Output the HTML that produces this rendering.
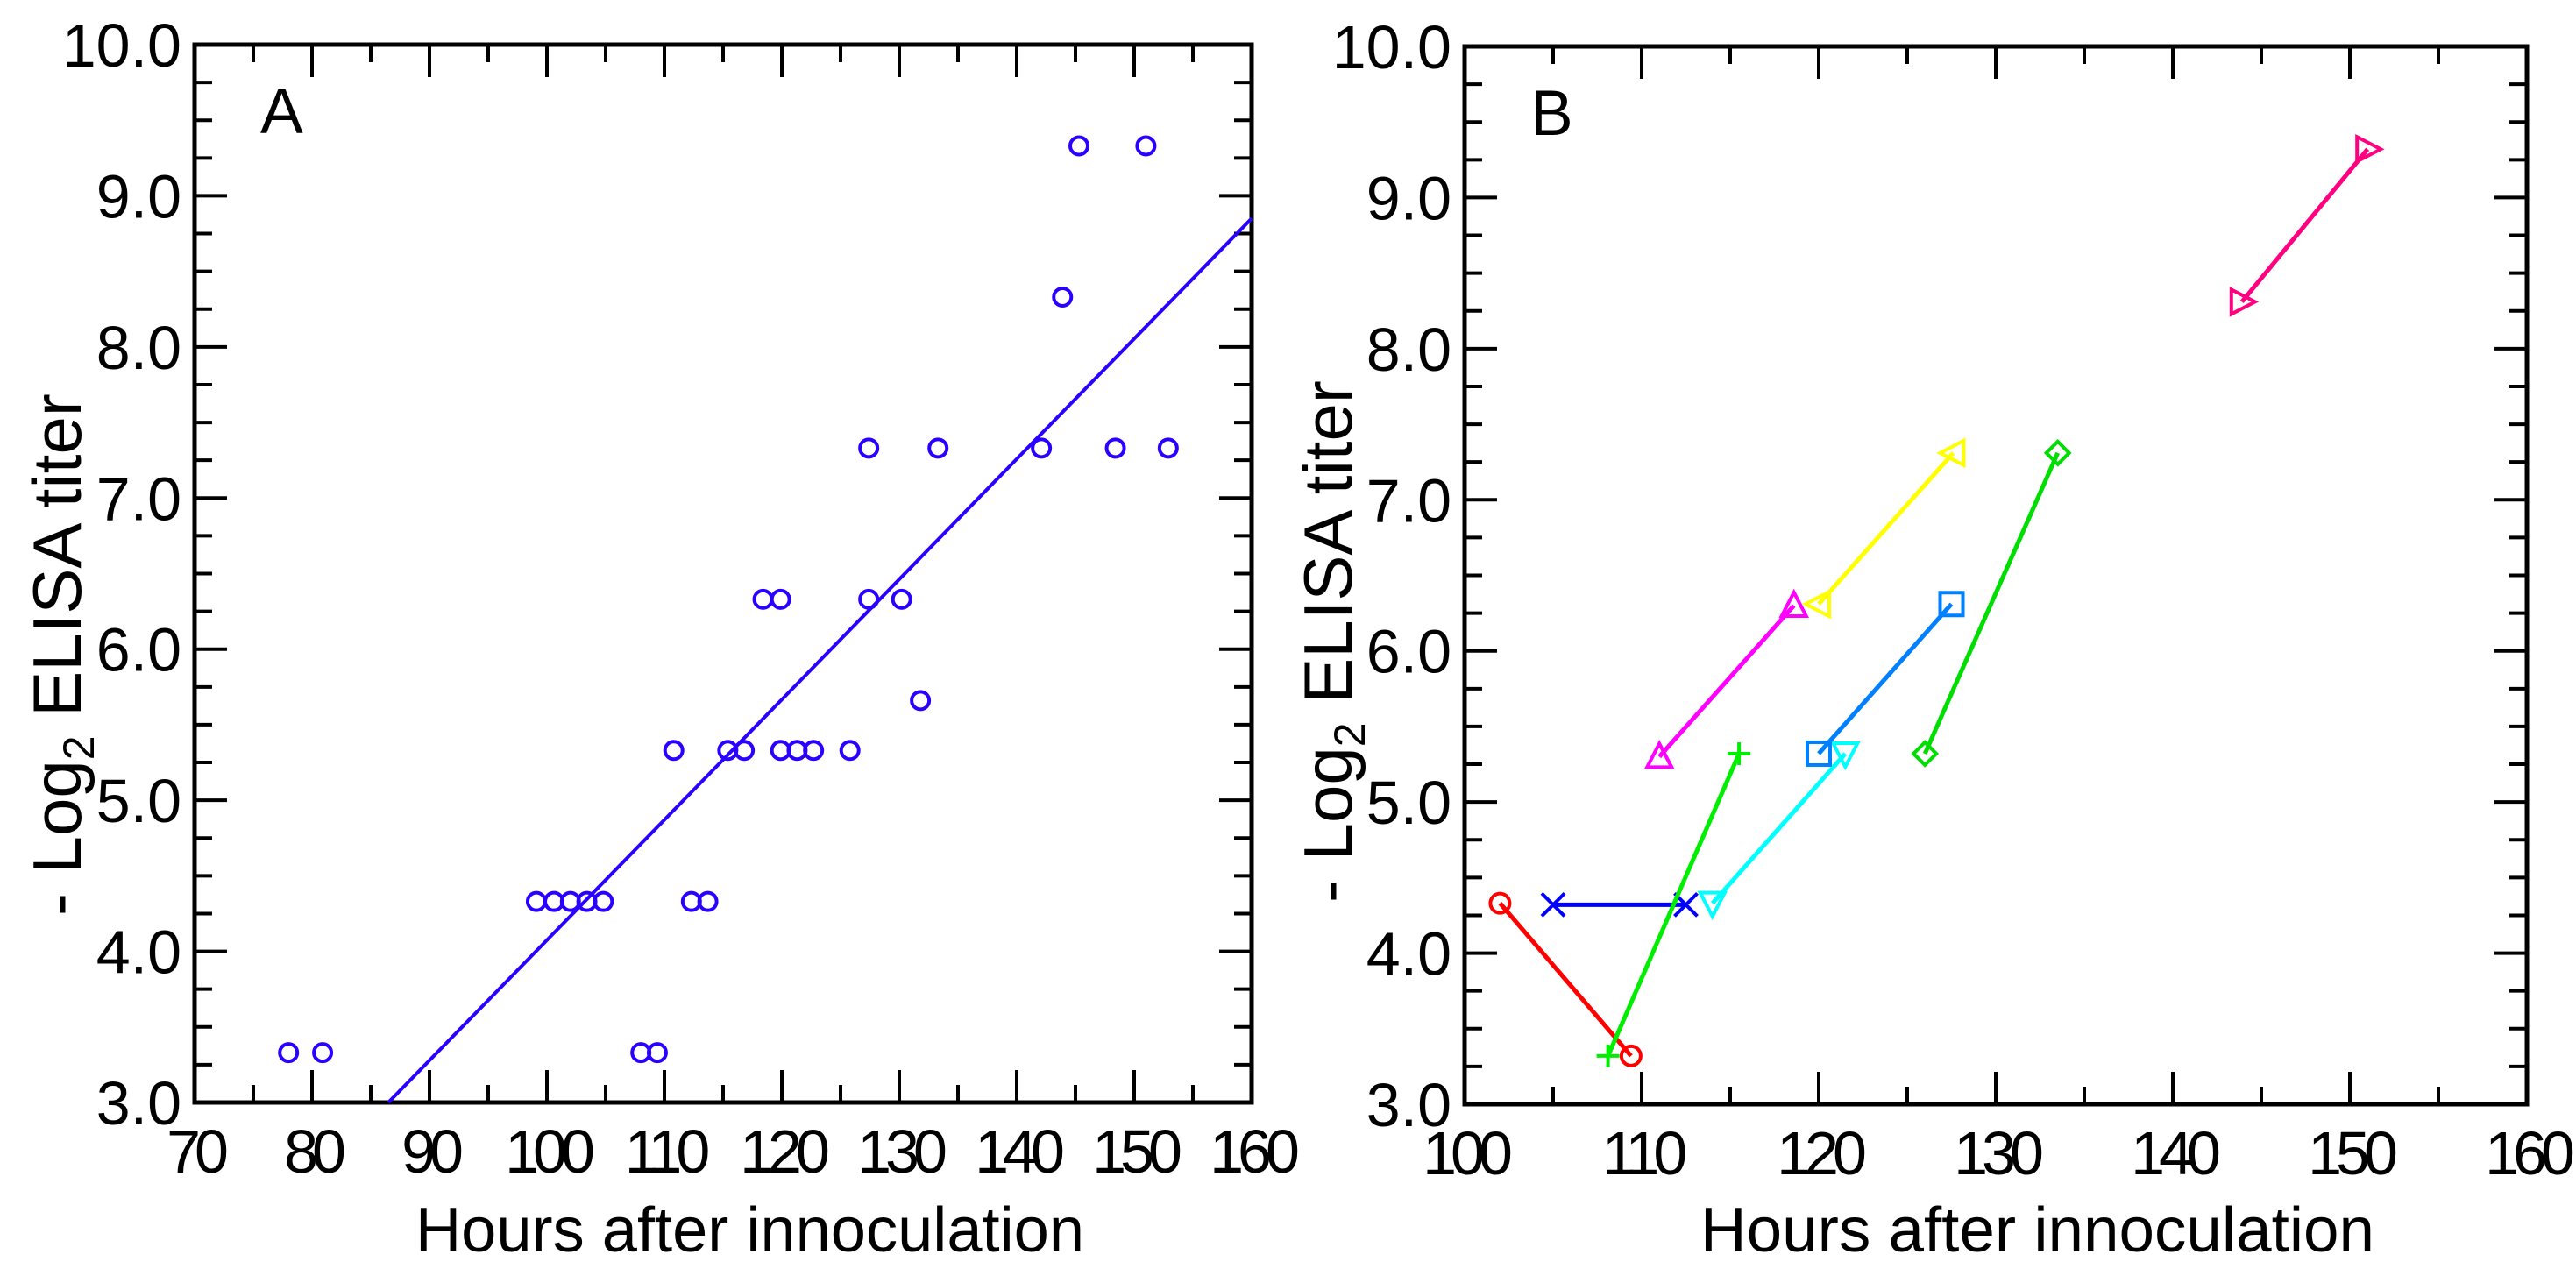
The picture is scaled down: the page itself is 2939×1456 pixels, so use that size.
<!DOCTYPE html>
<html><head><meta charset="utf-8"><style>
html,body{margin:0;padding:0;background:#fff;}
svg{display:block;font-family:"Liberation Sans",Arial,sans-serif;}
</style></head><body>
<svg id="chart" width="2939" height="1456" viewBox="0 0 2939 1456" xmlns="http://www.w3.org/2000/svg"></svg>
<script>
// Panel A data
const hoursA = [78,80.9,99.1,100.6,102,103.4,104.8,108,109.4,110.8,112.3,113.7,115.4,116.8,118.4,119.9,119.9,121.3,122.7,125.8,127.4,127.4,130.2,131.8,133.3,142.1,143.9,145.3,148.4,151,152.9];
const titerA = [3.33,3.33,4.33,4.33,4.33,4.33,4.33,3.33,3.33,5.33,4.33,4.33,5.33,5.33,6.33,6.33,5.33,5.33,5.33,5.33,7.33,6.33,6.33,5.66,7.33,7.33,8.33,9.33,7.33,9.33,7.33];
const fitHours = [86.5,160];
const fitTiter = [3.0,8.85];
// Panel B data (each animal: two points)
const seriesNames = ['red-circle','blue-x','green-plus','magenta-triangle','yellow-left-triangle','cyan-down-triangle','blue-square','green-diamond','pink-right-triangle'];
const hoursB = [[102,109.4],[105,112.5],[108.1,115.5],[111,118.6],[120,127.6],[114,121.5],[120,127.5],[126,133.5],[143.9,151]];
const titerB = [[4.33,3.32],[4.32,4.32],[3.32,5.32],[5.3,6.3],[6.31,7.31],[4.33,5.32],[5.32,6.31],[5.32,7.31],[8.31,9.32]];
const colorsB = ['#ff0000','#0000ff','#00ee00','#ff00ff','#ffff00','#00ffff','#0080ff','#00dd00','#ff0080'];
const markersB = ['circle','x','plus','up','left','down','square','diamond','right'];
const yTicks = ['3.0','4.0','5.0','6.0','7.0','8.0','9.0','10.0'];
const xTicksA = ['70','80','90','100','110','120','130','140','150','160'];
const xTicksB = ['100','110','120','130','140','150','160'];

const NS='http://www.w3.org/2000/svg';
const svg=document.getElementById('chart');
function el(tag,attrs,parent){const e=document.createElementNS(NS,tag);for(const k in attrs)e.setAttribute(k,attrs[k]);(parent||svg).appendChild(e);return e;}

function panel(cfg){
  const g=el('g',{});
  
  
  const X=v=>cfg.L+(v-cfg.xmin)/(cfg.xmax-cfg.xmin)*(cfg.R-cfg.L);
  const Y=v=>cfg.B-(v-3)/7*(cfg.B-cfg.T);
  for(let v=3;v<=10.0001;v+=0.25){
    const major=Math.abs(v-Math.round(v))<1e-6;
    const len=major?37:20;
    el('line',{x1:cfg.L,x2:cfg.L+len,y1:Y(v),y2:Y(v),stroke:'#000','stroke-width':4},g);
    el('line',{x1:cfg.R,x2:cfg.R-len,y1:Y(v),y2:Y(v),stroke:'#000','stroke-width':4},g);
  }
  for(let v=cfg.xmin;v<=cfg.xmax+0.001;v+=5){
    const major=(v%10)===0;const len=major?37:20;
    el('line',{x1:X(v),x2:X(v),y1:cfg.B,y2:cfg.B-len,stroke:'#000','stroke-width':4},g);
    el('line',{x1:X(v),x2:X(v),y1:cfg.T,y2:cfg.T+len,stroke:'#000','stroke-width':4},g);
  }
  const frame=el('rect',{x:cfg.L,y:cfg.T,width:cfg.R-cfg.L,height:cfg.B-cfg.T,fill:'none',stroke:'#000','stroke-width':5},g);
  
  
  yTicks.forEach(t=>{
    const tx=el('text',{x:cfg.L-15,y:Y(parseFloat(t))+25,'text-anchor':'end','font-size':70},g);
    tx.textContent=t;
    
    
  });
  cfg.xt.forEach(t=>{
    const tx=el('text',{x:X(parseFloat(t)),y:cfg.B+80,'text-anchor':'middle','font-size':70,'letter-spacing':-7},g);
    tx.textContent=t;
    
    
  });
  const pl=el('text',{x:cfg.L+75,y:cfg.T+101,'font-size':73},g);
  pl.textContent=cfg.letter;
  
  
  const xt=el('text',{x:cfg.xtx,y:1428,'font-size':72,textLength:cfg.xtw,lengthAdjust:'spacingAndGlyphs'},g);
  xt.textContent='Hours after innoculation';
  
  
  const yt=el('text',{x:0,y:0,'font-size':78,transform:'translate('+cfg.ytx+','+cfg.yty+') rotate(-90)'},g);
  
  
  yt.appendChild(document.createTextNode('- Log'));
  const sub=el('tspan',{'font-size':50,dy:15},yt);sub.textContent='2';
  const rest=el('tspan',{dy:-15},yt);rest.textContent=' ELISA titer';
  return {g,X,Y};
}

// Panel A
const A=panel({name:'panel-a',L:222,R:1428,T:51,B:1258,xmin:70,xmax:160,xt:xTicksA,letter:'A',xtx:474,xtw:763,ytx:92,yty:1045});
const fit=el('line',{x1:A.X(fitHours[0]),y1:A.Y(fitTiter[0]),x2:A.X(fitHours[1]),y2:A.Y(fitTiter[1]),stroke:'#2a00ff','stroke-width':4},A.g);


hoursA.forEach((h,i)=>{
  const c=el('circle',{cx:A.X(h),cy:A.Y(titerA[i]),r:10,fill:'none',stroke:'#2a00ff','stroke-width':4},A.g);
  
  
});

// Panel B
const Bp=panel({name:'panel-b',L:1671,R:2883,T:53,B:1260,xmin:100,xmax:160,xt:xTicksB,letter:'B',xtx:1940,xtw:769,ytx:1542,yty:1030});
function marker(type,x,y,col,parent){
  const s=13,w=4;let m;
  const a={fill:'none',stroke:col,'stroke-width':w};
  if(type==='circle') m=el('circle',Object.assign({cx:x,cy:y,r:11},a),parent);
  else if(type==='square') m=el('rect',Object.assign({x:x-13,y:y-13,width:26,height:26},a),parent);
  else if(type==='x') m=el('path',Object.assign({d:`M${x-s} ${y-s}L${x+s} ${y+s}M${x-s} ${y+s}L${x+s} ${y-s}`},a),parent);
  else if(type==='plus') m=el('path',Object.assign({d:`M${x-s} ${y}L${x+s} ${y}M${x} ${y-s}L${x} ${y+s}`},a),parent);
  else if(type==='diamond') m=el('path',Object.assign({d:`M${x} ${y-s}L${x+s} ${y}L${x} ${y+s}L${x-s} ${y}Z`},a),parent);
  else if(type==='up') m=el('path',Object.assign({d:`M${x} ${y-s-2}L${x+s+1} ${y+s-1}L${x-s-1} ${y+s-1}Z`},a),parent);
  else if(type==='down') m=el('path',Object.assign({d:`M${x} ${y+s+2}L${x+s+1} ${y-s+1}L${x-s-1} ${y-s+1}Z`},a),parent);
  else if(type==='left') m=el('path',Object.assign({d:`M${x-s-2} ${y}L${x+s-1} ${y-s-1}L${x+s-1} ${y+s+1}Z`},a),parent);
  else m=el('path',Object.assign({d:`M${x+s+2} ${y}L${x-s+1} ${y-s-1}L${x-s+1} ${y+s+1}Z`},a),parent);
  return m;
}
hoursB.forEach((hs,i)=>{
  const ln=el('line',{x1:Bp.X(hs[0]),y1:Bp.Y(titerB[i][0]),x2:Bp.X(hs[1]),y2:Bp.Y(titerB[i][1]),stroke:colorsB[i],'stroke-width':5},Bp.g);
  
  
  hs.forEach((h,j)=>{
    const m=marker(markersB[i],Bp.X(h),Bp.Y(titerB[i][j]),colorsB[i],Bp.g);
    
    
  });
});
</script>
</body></html>
